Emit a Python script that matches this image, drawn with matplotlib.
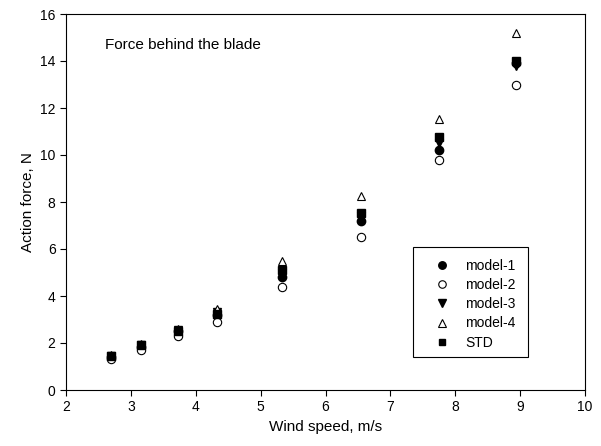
import matplotlib
matplotlib.use("Agg")
import matplotlib.pyplot as plt
from matplotlib.patches import Rectangle

plt.rcParams['font.family'] = ['Liberation Sans', 'DejaVu Sans']

wind = [2.7, 3.15, 3.73, 4.32, 5.33, 6.54, 7.75, 8.94]
model1 = [1.4, 1.85, 2.5, 3.2, 4.8, 7.2, 10.2, 13.9]
model2 = [1.3, 1.7, 2.3, 2.9, 4.4, 6.5, 9.8, 13.0]
model3 = [1.45, 1.9, 2.55, 3.3, 5.0, 7.4, 10.5, 13.8]
model4 = [1.5, 1.95, 2.6, 3.45, 5.5, 8.25, 11.55, 15.2]
std = [1.45, 1.9, 2.5, 3.25, 5.1, 7.55, 10.75, 14.0]

W, H = 601, 446
fig = plt.figure(figsize=(W / 100, H / 100), dpi=100)
ax = fig.add_axes([66/W, 1 - 390/H, 519/W, 376/H])

ms = 6
ax.plot(wind, model1, 'o', color='k', ms=ms, label='model-1')
ax.plot(wind, model2, 'o', mfc='white', mec='k', mew=0.8, ms=ms, label='model-2')
ax.plot(wind, model3, 'v', color='k', ms=ms, label='model-3')
ax.plot(wind, model4, '^', mfc='white', mec='k', mew=0.8, ms=ms, label='model-4')
ax.plot(wind, std, 's', color='k', ms=ms - 0.5, label='STD')

ax.set_xlim(2, 10)
ax.set_ylim(0, 16)
ax.set_xticks(range(2, 11))
ax.set_yticks(range(0, 17, 2))
ax.tick_params(direction='out', labelsize=10, length=4)
ax.set_xlabel('Wind speed, m/s', fontsize=11)
ax.set_ylabel('Action force, N', fontsize=11)

ax.text(2.6, 14.7, 'Force behind the blade', fontsize=11, va='center')

# legend box (frame drawn separately, extra room at the bottom like the original)
box = Rectangle((413/W, 1 - 357/H), 115/W, 110/H, transform=fig.transFigure,
                facecolor='white', edgecolor='k', lw=0.8, zorder=4, clip_on=False)
ax.add_patch(box)
leg = ax.legend(loc='upper left', bbox_to_anchor=(435/W, 1 - 259/H),
                bbox_transform=fig.transFigure, frameon=False, fontsize=10,
                borderpad=0, borderaxespad=0, handlelength=1.0, handletextpad=1.15,
                labelspacing=0.37, markerscale=0.9)
leg.set_zorder(5)

fig.savefig('out.png', dpi=100)
